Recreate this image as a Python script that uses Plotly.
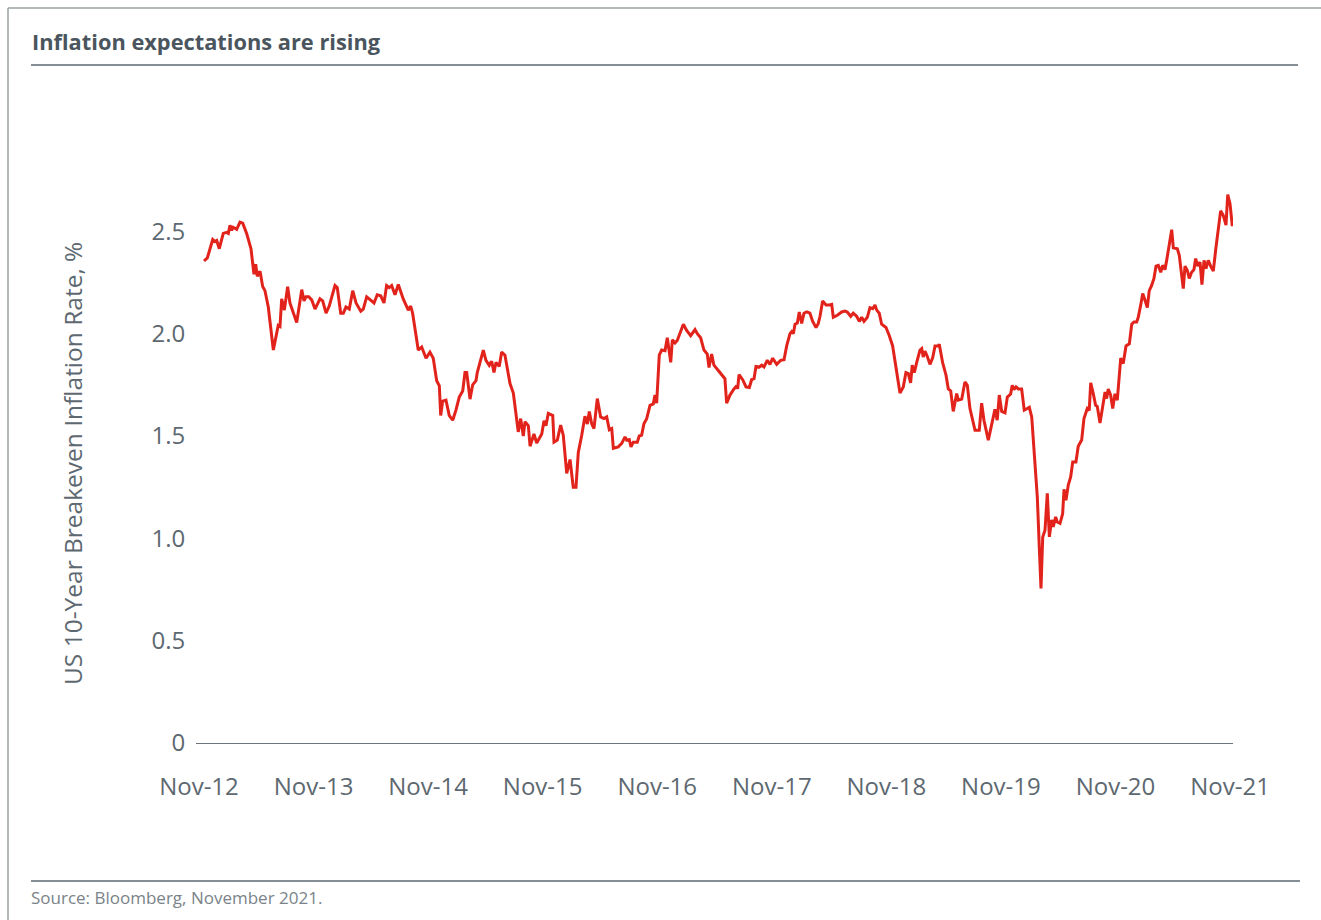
import plotly.graph_objects as go

# Decimal-year dates
dates = [
2012.877,2012.906,2012.953,2012.973,2012.988,2013.010,2013.045,2013.075,2013.089,2013.104,
2013.118,2013.132,2013.162,2013.191,2013.215,2013.249,2013.287,2013.313,2013.328,2013.342,
2013.366,2013.389,2013.409,2013.438,2013.482,2013.505,2013.525,2013.540,2013.555,2013.578,
2013.607,2013.627,2013.686,2013.730,2013.750,2013.767,2013.791,2013.817,2013.846,2013.889,
2013.913,2013.942,2013.970,2014.020,2014.040,2014.070,2014.093,2014.116,2014.145,2014.175,
2014.204,2014.245,2014.267,2014.297,2014.326,2014.361,2014.389,2014.419,2014.448,2014.471,
2014.494,2014.515,2014.544,2014.573,2014.616,2014.660,2014.681,2014.698,2014.747,2014.777,
2014.815,2014.849,2014.878,2014.908,2014.931,2014.943,2014.960,2014.989,2015.018,2015.048,
2015.076,2015.105,2015.135,2015.155,2015.170,2015.199,2015.222,2015.251,2015.262,2015.286,
2015.315,2015.338,2015.367,2015.388,2015.408,2015.426,2015.454,2015.475,2015.504,2015.548,
2015.577,2015.620,2015.641,2015.664,2015.679,2015.708,2015.723,2015.757,2015.781,2015.825,
2015.845,2015.862,2015.882,2015.921,2015.932,2015.961,2015.990,2016.013,2016.043,2016.072,
2016.100,2016.124,2016.144,2016.174,2016.202,2016.223,2016.240,2016.261,2016.281,2016.310,
2016.339,2016.368,2016.392,2016.415,2016.436,2016.450,2016.493,2016.523,2016.552,2016.566,
2016.589,2016.604,2016.624,2016.659,2016.676,2016.697,2016.717,2016.741,2016.770,2016.799,
2016.813,2016.828,2016.851,2016.872,2016.901,2016.921,2016.951,2016.965,2016.988,2017.008,
2017.032,2017.061,2017.090,2017.125,2017.163,2017.183,2017.212,2017.241,2017.270,2017.285,
2017.308,2017.328,2017.366,2017.404,2017.424,2017.439,2017.468,2017.503,2017.527,2017.535,
2017.547,2017.579,2017.608,2017.637,2017.657,2017.678,2017.695,2017.724,2017.745,2017.765,
2017.794,2017.817,2017.841,2017.876,2017.911,2017.940,2017.963,2017.992,2018.007,2018.021,
2018.036,2018.056,2018.073,2018.094,2018.114,2018.138,2018.166,2018.190,2018.219,2018.239,
2018.254,2018.277,2018.306,2018.335,2018.356,2018.370,2018.405,2018.443,2018.472,2018.492,
2018.522,2018.544,2018.574,2018.597,2018.618,2018.638,2018.667,2018.690,2018.714,2018.734,
2018.749,2018.771,2018.792,2018.830,2018.859,2018.888,2018.923,2018.952,2018.981,2019.004,
2019.025,2019.045,2019.059,2019.077,2019.098,2019.127,2019.142,2019.155,2019.170,2019.190,
2019.214,2019.238,2019.258,2019.286,2019.295,2019.325,2019.354,2019.374,2019.395,2019.417,
2019.447,2019.461,2019.491,2019.519,2019.540,2019.563,2019.607,2019.644,2019.665,2019.685,
2019.723,2019.753,2019.781,2019.801,2019.819,2019.840,2019.869,2019.889,2019.918,2019.932,
2019.947,2019.965,2019.985,2020.014,2020.037,2020.063,2020.081,2020.102,2020.130,2020.151,
2020.168,2020.183,2020.198,2020.218,2020.238,2020.256,2020.276,2020.290,2020.311,2020.325,
2020.349,2020.372,2020.384,2020.401,2020.421,2020.442,2020.460,2020.488,2020.508,2020.538,
2020.558,2020.576,2020.587,2020.604,2020.617,2020.639,2020.660,2020.674,2020.698,2020.721,
2020.742,2020.756,2020.770,2020.791,2020.809,2020.829,2020.849,2020.879,2020.901,2020.925,
2020.954,2020.975,2020.995,2021.018,2021.032,2021.053,2021.071,2021.091,2021.111,2021.128,
2021.149,2021.169,2021.187,2021.207,2021.228,2021.245,2021.265,2021.280,2021.303,2021.324,
2021.338,2021.373,2021.390,2021.411,2021.425,2021.440,2021.460,2021.477,2021.498,2021.518,
2021.533,2021.551,2021.571,2021.588,2021.606,2021.623,2021.643,2021.664,2021.687,2021.710,
2021.731,2021.751,2021.774,2021.798,2021.813,2021.833,2021.853,
]

# US 10-year breakeven inflation rate, %
breakeven = [
2.355,2.37,2.46,2.45,2.455,2.415,2.49,2.495,2.49,2.53,
2.505,2.52,2.51,2.545,2.54,2.49,2.415,2.29,2.34,2.28,
2.305,2.23,2.21,2.13,1.92,1.985,2.04,2.035,2.17,2.115,
2.23,2.15,2.055,2.215,2.16,2.18,2.18,2.165,2.12,2.17,
2.16,2.10,2.135,2.235,2.225,2.10,2.10,2.13,2.12,2.21,
2.15,2.11,2.12,2.18,2.165,2.15,2.19,2.185,2.15,2.235,
2.225,2.235,2.19,2.24,2.17,2.115,2.135,2.10,1.92,1.935,
1.88,1.91,1.88,1.77,1.745,1.60,1.67,1.675,1.60,1.577,
1.626,1.69,1.72,1.81,1.81,1.68,1.75,1.77,1.81,1.86,
1.92,1.87,1.845,1.865,1.81,1.86,1.84,1.91,1.895,1.756,
1.71,1.52,1.585,1.50,1.57,1.55,1.45,1.51,1.466,1.51,
1.574,1.55,1.61,1.60,1.47,1.48,1.553,1.504,1.317,1.385,
1.25,1.25,1.42,1.504,1.597,1.558,1.62,1.56,1.536,1.683,
1.593,1.585,1.593,1.53,1.536,1.44,1.447,1.464,1.496,1.48,
1.483,1.447,1.47,1.47,1.50,1.504,1.56,1.585,1.65,1.657,
1.70,1.66,1.895,1.92,1.917,1.98,1.86,1.97,1.955,1.967,
2.00,2.046,2.016,1.99,2.02,2.00,1.98,1.92,1.90,1.835,
1.90,1.846,1.82,1.79,1.78,1.66,1.70,1.73,1.745,1.73,
1.80,1.775,1.74,1.737,1.775,1.78,1.84,1.837,1.846,1.837,
1.87,1.85,1.88,1.85,1.87,1.873,1.94,2.00,2.01,2.00,
2.046,2.052,2.106,2.05,2.10,2.106,2.10,2.06,2.03,2.05,
2.085,2.16,2.14,2.14,2.143,2.08,2.09,2.106,2.11,2.106,
2.085,2.10,2.085,2.06,2.08,2.06,2.08,2.127,2.122,2.14,
2.115,2.10,2.046,2.03,1.99,1.94,1.82,1.71,1.74,1.81,
1.805,1.76,1.846,1.81,1.86,1.92,1.927,1.886,1.915,1.89,
1.85,1.883,1.94,1.94,1.948,1.857,1.797,1.73,1.72,1.62,
1.707,1.675,1.68,1.764,1.748,1.634,1.528,1.528,1.66,1.577,
1.48,1.56,1.63,1.577,1.70,1.62,1.613,1.69,1.705,1.748,
1.727,1.74,1.73,1.73,1.626,1.634,1.64,1.593,1.38,1.20,
0.958,0.755,1.007,1.04,1.22,1.007,1.09,1.056,1.105,1.08,
1.073,1.12,1.24,1.186,1.26,1.30,1.373,1.373,1.45,1.48,
1.585,1.613,1.634,1.625,1.76,1.707,1.65,1.645,1.564,1.642,
1.715,1.683,1.73,1.70,1.634,1.707,1.675,1.88,1.854,1.94,
1.95,2.046,2.057,2.057,2.08,2.139,2.196,2.163,2.127,2.21,
2.236,2.27,2.33,2.334,2.30,2.334,2.313,2.358,2.43,2.508,
2.42,2.415,2.383,2.285,2.22,2.33,2.31,2.27,2.30,2.313,
2.367,2.33,2.35,2.24,2.358,2.318,2.358,2.33,2.306,2.42,
2.505,2.60,2.578,2.53,2.68,2.635,2.525,
]

tick_years = [2012.833, 2013.833, 2014.833, 2015.833, 2016.833,
              2017.833, 2018.833, 2019.833, 2020.833, 2021.833]
tick_labels = ["Nov-12", "Nov-13", "Nov-14", "Nov-15", "Nov-16",
               "Nov-17", "Nov-18", "Nov-19", "Nov-20", "Nov-21"]
y_ticks = [0, 0.5, 1.0, 1.5, 2.0, 2.5]
y_tick_labels = ["0", "0.5", "1.0", "1.5", "2.0", "2.5"]

title_text = "Inflation expectations are rising"
y_title = "US 10-Year Breakeven Inflation Rate, %"
source_text = "Source: Bloomberg, November 2021."

W, H = 1321, 920
L, R, T, B = 196, 88, 129, 177
PW, PH = W - L - R, H - T - B

def px(x):
    return (x - L) / PW

def py(y):
    return (H - B - y) / PH

TEXT = "#5d6870"
FONT = "Open Sans"

fig = go.Figure()
fig.add_trace(go.Scatter(
    x=dates, y=breakeven, mode="lines",
    line=dict(color="#e2231c", width=3),
    hoverinfo="skip", showlegend=False,
))

fig.update_layout(
    width=W, height=H,
    margin=dict(l=L, r=R, t=T, b=B),
    paper_bgcolor="white", plot_bgcolor="white",
    font=dict(family=FONT, color=TEXT),
    xaxis=dict(
        range=[2012.807, 2021.859],
        tickvals=tick_years, ticktext=tick_labels,
        showgrid=False, zeroline=False,
        showline=True, linecolor="#6b757d", linewidth=1.3,
        ticks="outside", ticklen=22, tickcolor="rgba(0,0,0,0)",
        tickfont=dict(size=24, color=TEXT, family=FONT),
    ),
    yaxis=dict(
        range=[0, 3.0],
        tickvals=y_ticks, ticktext=y_tick_labels,
        showgrid=False, zeroline=False, showline=False,
        ticks="outside", ticklen=5, tickcolor="rgba(0,0,0,0)",
        tickfont=dict(size=24, color=TEXT, family=FONT),
    ),
)

shapes = [
    # frame
    dict(type="line", xref="paper", yref="paper", x0=px(8), x1=px(8), y0=py(8), y1=py(925),
         line=dict(color="#9aa0a5", width=1.5)),
    dict(type="line", xref="paper", yref="paper", x0=px(8), x1=px(1330), y0=py(8), y1=py(8),
         line=dict(color="#9aa0a5", width=1.5)),
    # title rule
    dict(type="line", xref="paper", yref="paper", x0=px(31), x1=px(1298), y0=py(65), y1=py(65),
         line=dict(color="#5d6870", width=1.3)),
    # source rule
    dict(type="line", xref="paper", yref="paper", x0=px(31), x1=px(1300), y0=py(881), y1=py(881),
         line=dict(color="#5d6870", width=1.3)),
]
fig.update_layout(shapes=shapes)

fig.add_annotation(x=px(30), y=py(42), xref="paper", yref="paper",
                   text="<b>" + title_text + "</b>", showarrow=False,
                   xanchor="left", yanchor="middle",
                   font=dict(size=21.8, color="#4a555e", family=FONT))
fig.add_annotation(x=px(72), y=py(464), xref="paper", yref="paper",
                   text=y_title, showarrow=False, textangle=-90,
                   xanchor="center", yanchor="middle",
                   font=dict(size=24.5, color=TEXT, family=FONT))
fig.add_annotation(x=px(29), y=py(898), xref="paper", yref="paper",
                   text=source_text, showarrow=False,
                   xanchor="left", yanchor="middle",
                   font=dict(size=17, color="#7a8389", family=FONT))

fig.write_html("out.html")
